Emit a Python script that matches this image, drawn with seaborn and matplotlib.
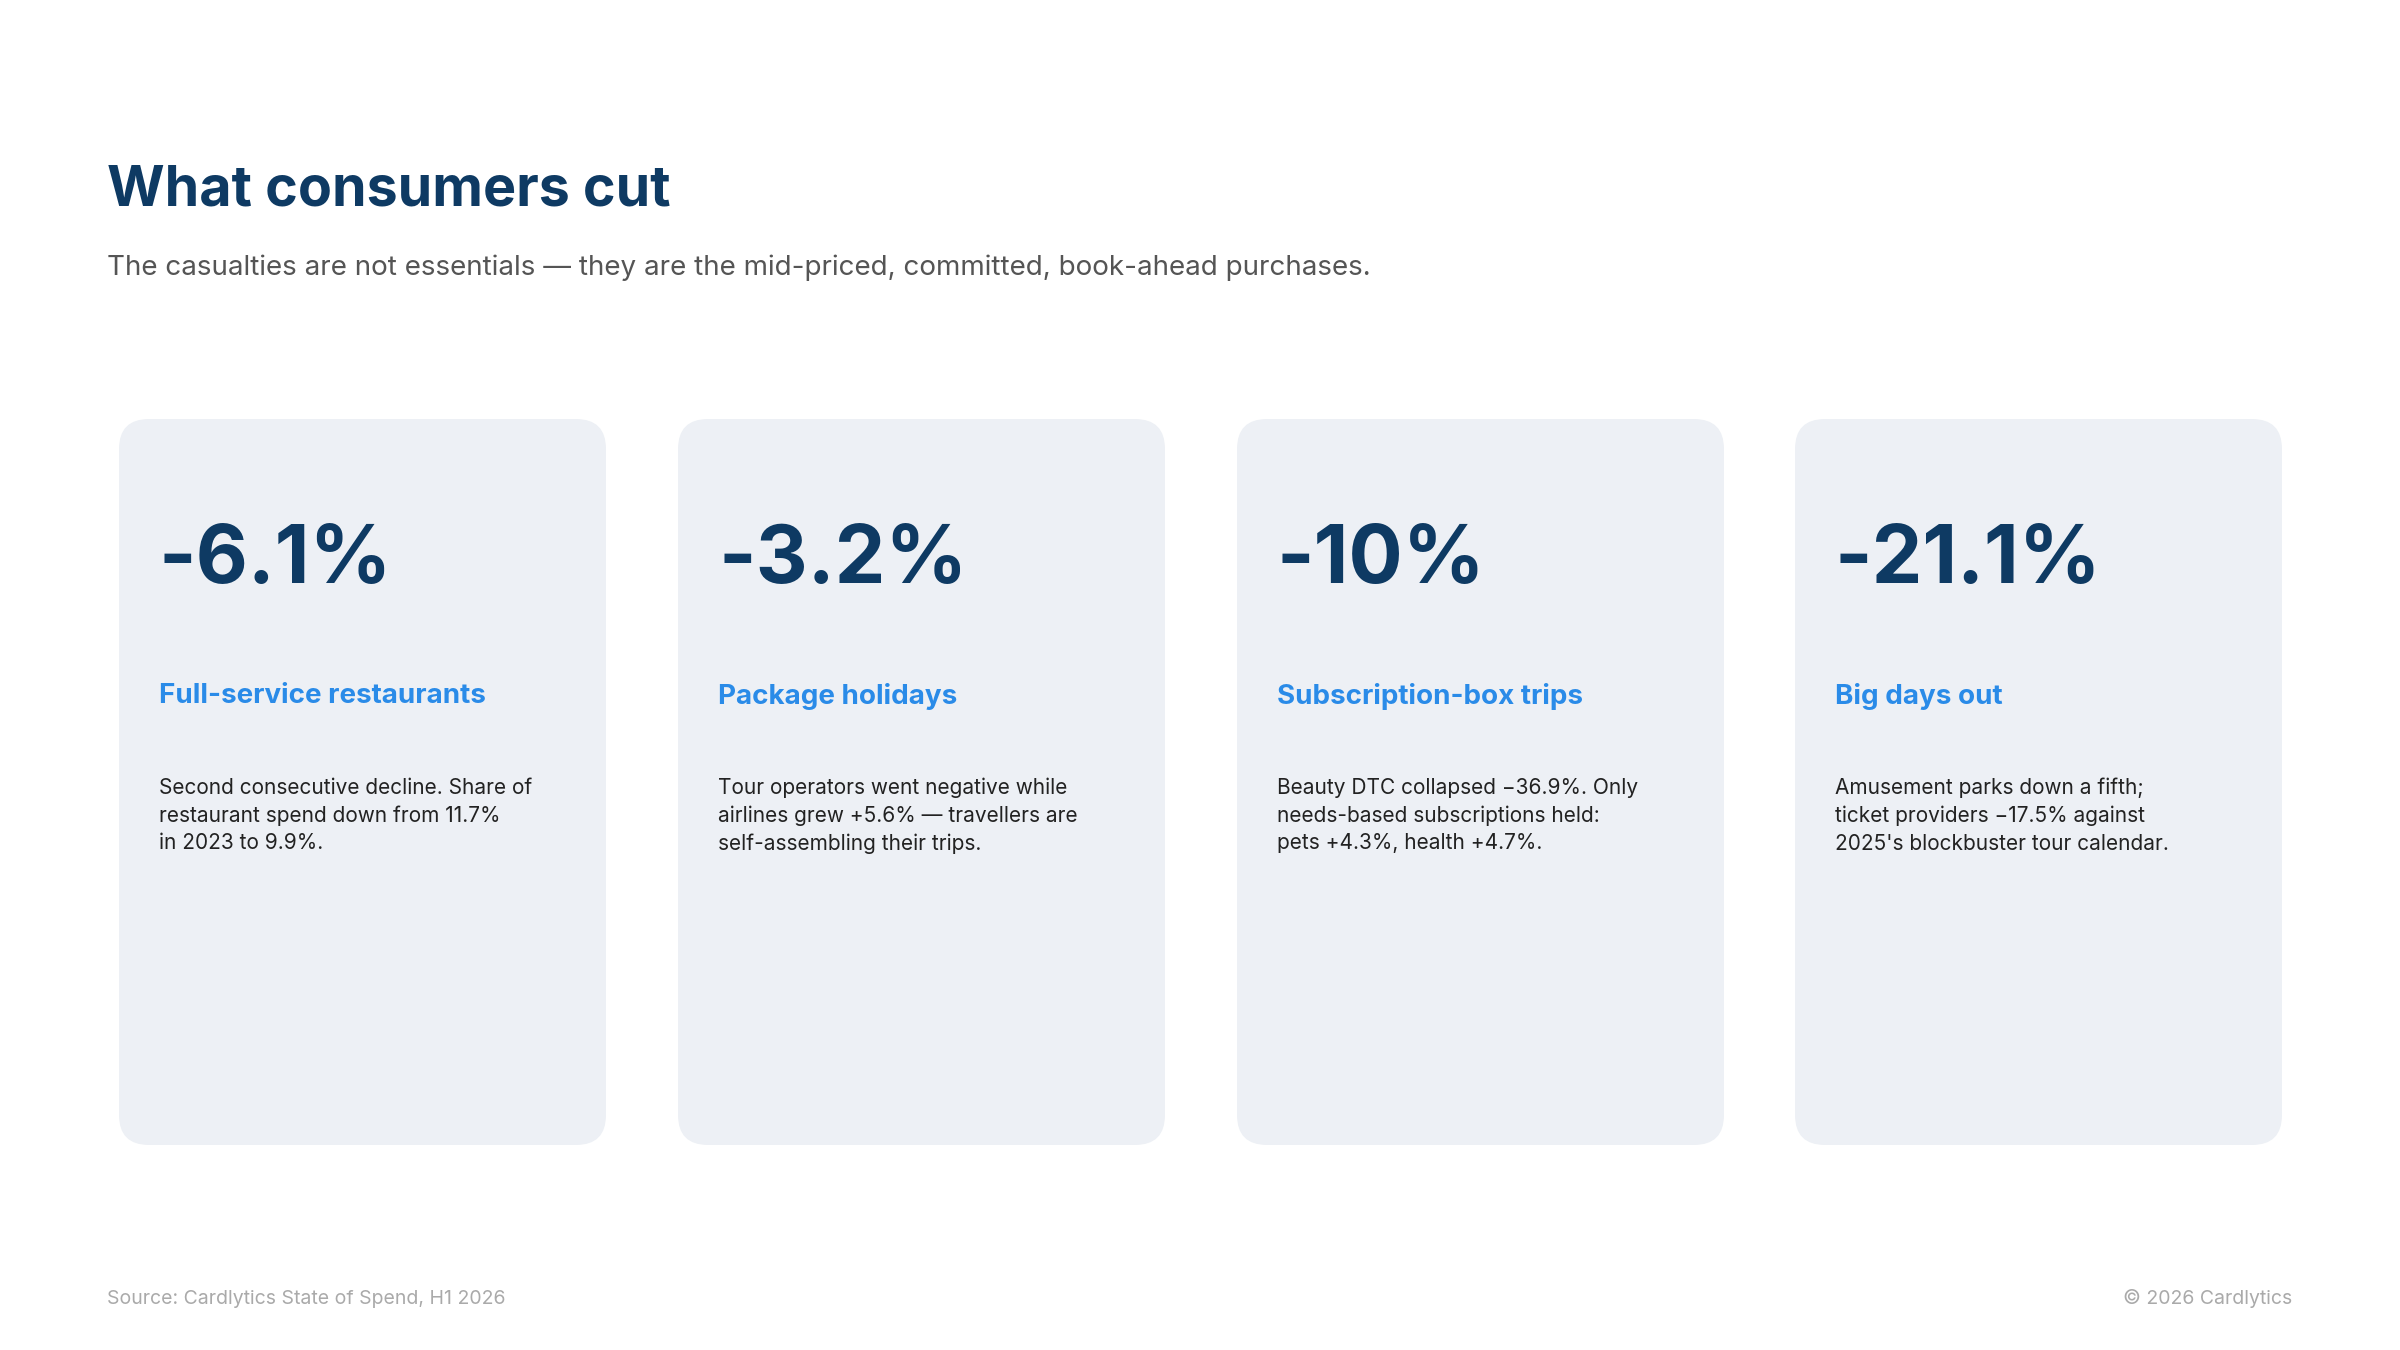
import matplotlib
matplotlib.use("Agg")
import matplotlib.pyplot as plt
import seaborn as sns
from matplotlib.patches import FancyBboxPatch

# ==========================
# Data
# ==========================
values = ["-6.1%", "-3.2%", "-10%", "-21.1%"]
categories = ["Full-service restaurants", "Package holidays",
              "Subscription-box trips", "Big days out"]
notes = [
    "Second consecutive decline. Share of\nrestaurant spend down from 11.7%\nin 2023 to 9.9%.",
    "Tour operators went negative while\nairlines grew +5.6% \u2014 travellers are\nself-assembling their trips.",
    "Beauty DTC collapsed \u221236.9%. Only\nneeds-based subscriptions held:\npets +4.3%, health +4.7%.",
    "Amusement parks down a fifth;\nticket providers \u221217.5% against\n2025's blockbuster tour calendar.",
]
title = "What consumers cut"
subtitle = ("The casualties are not essentials \u2014 they are the mid-priced, "
            "committed, book-ahead purchases.")
source = "Source: Cardlytics State of Spend, H1 2026"
credit = "\u00a9 2026 Cardlytics"

sns.set_theme(style="white")
plt.rcParams["font.family"] = ["Inter", "DejaVu Sans"]

NAVY = "#0e3a63"
BLUE = "#2a8be8"
CARD = "#edf0f5"

fig = plt.figure(figsize=(24, 13.5), dpi=100)
ax = fig.add_axes([0, 0, 1, 1])
ax.set_xlim(0, 2400)
ax.set_ylim(1350, 0)
ax.axis("off")

ax.text(107, 191, title, fontsize=40, fontweight="bold", color=NAVY, va="center")
ax.text(107, 268, subtitle, fontsize=20, color="#555555", va="center")

card_x = [119, 678, 1237, 1795]
card_w, card_top, card_h = 487, 419, 726
for i, x0 in enumerate(card_x):
    ax.add_patch(FancyBboxPatch((x0, card_top), card_w, card_h,
                                boxstyle="round,pad=0,rounding_size=30",
                                fc=CARD, ec="none"))
    ax.text(x0 + 40, 562, values[i], fontsize=58, fontweight="bold",
            color=NAVY, va="center")
    ax.text(x0 + 40, 696, categories[i], fontsize=20, fontweight="bold",
            color=BLUE, va="center")
    ax.text(x0 + 40, 778, notes[i], fontsize=15, color="#222222",
            va="top", linespacing=1.45)

ax.text(107, 1299, source, fontsize=14, color="#aaaaaa", va="center")
ax.text(2292, 1299, credit, fontsize=14, color="#aaaaaa", va="center", ha="right")

fig.savefig("out.png", dpi=100, facecolor="white")
